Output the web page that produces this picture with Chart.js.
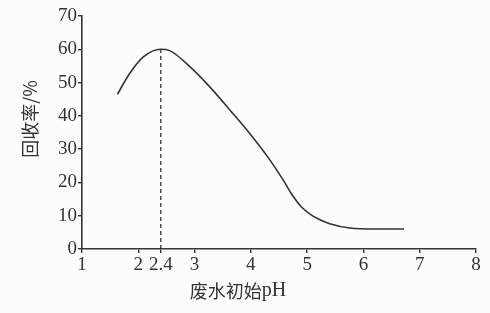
<!DOCTYPE html>
<html>
<head>
<meta charset="utf-8">
<script src="https://cdn.jsdelivr.net/npm/chart.js@4.4.1/dist/chart.umd.min.js"></script>
<style>
  html, body { margin: 0; padding: 0; background: #fcfcfb; }
  #wrap { width: 490px; height: 313px; position: relative; }
</style>
</head>
<body>
<div id="wrap"><canvas id="myChart" width="490" height="313"></canvas></div>
<script>
// curve: pH vs recovery %
const phValues = [1.63, 1.85, 2.09, 2.4, 2.56, 2.92, 3.27, 3.63, 3.98, 4.34, 4.6, 4.72, 4.9, 5.05, 5.2, 5.4, 5.76, 6.2, 6.72];
const recovery = [46.5, 52.8, 57.7, 60.0, 59.6, 54.7, 48.7, 41.7, 34.7, 26.7, 20.0, 16.6, 12.6, 10.5, 9.0, 7.6, 6.3, 6.0, 6.0];

// dashed marker at the optimum pH
const peakPh = 2.4;
const peakValue = 60;

const xTicks = [1, 2, 2.4, 3, 4, 5, 6, 7, 8];
const yTicks = [0, 10, 20, 30, 40, 50, 60, 70];

const xTitleCn = '废水初始';
const xTitleUnit = 'pH';
const yTitle = '回收率/%';

const INK = '#333333';
const SERIF = '"Liberation Serif", "DejaVu Serif", serif';
const NUM_FONT = { family: SERIF, size: 19 };

/**
 * Draw the two axis titles at the positions used in the printed figure
 */
const axisTitles = {
    id: 'axisTitles',
    afterDraw(chart) {
        const ctx = chart.ctx;
        ctx.save();
        ctx.fillStyle = INK;
        ctx.textBaseline = 'middle';

        // x title: CJK part then serif "pH"
        const cnFont = '18px "Noto Sans CJK SC", serif';
        const unitFont = '20px ' + SERIF;
        ctx.font = cnFont;
        const wCn = ctx.measureText(xTitleCn).width;
        ctx.font = unitFont;
        const wUnit = ctx.measureText(xTitleUnit).width;
        let x = 238 - (wCn + wUnit) / 2;
        ctx.textAlign = 'left';
        ctx.font = cnFont;
        ctx.fillText(xTitleCn, x, 291);
        ctx.font = unitFont;
        ctx.fillText(xTitleUnit, x + wCn, 291);

        ctx.textAlign = 'center';
        ctx.font = '18px "Noto Sans CJK SC", serif';
        ctx.translate(30, 119);
        ctx.rotate(-Math.PI / 2);
        ctx.fillText(yTitle, 0, 0);
        ctx.restore();
    }
};

const ctx = document.getElementById('myChart').getContext('2d');

new Chart(ctx, {
    type: 'line',
    data: {
        datasets: [{
            data: phValues.map((x, i) => ({ x: x, y: recovery[i] })),
            borderColor: INK,
            borderWidth: 1.6,
            pointRadius: 0,
            cubicInterpolationMode: 'monotone',
            fill: false
        }, {
            data: [{ x: peakPh, y: 0 }, { x: peakPh, y: peakValue }],
            borderColor: INK,
            borderWidth: 1.3,
            borderDash: [4, 3],
            pointRadius: 0,
            fill: false
        }]
    },
    options: {
        responsive: false,
        animation: false,
        layout: {
            padding: { top: 16, right: 14, left: 0, bottom: 0 }
        },
        plugins: {
            legend: { display: false },
            tooltip: { enabled: false }
        },
        scales: {
            x: {
                type: 'linear',
                min: 1,
                max: 8,
                afterBuildTicks: (scale) => {
                    scale.ticks = xTicks.map(v => ({ value: v }));
                },
                afterFit: (scale) => { scale.height = 313 - 16 - 233; },
                ticks: {
                    autoSkip: false,
                    maxRotation: 0,
                    color: INK,
                    font: NUM_FONT,
                    padding: 1,
                    callback: (v) => String(v)
                },
                grid: {
                    drawOnChartArea: false,
                    drawTicks: true,
                    tickLength: 4,
                    color: INK,
                    lineWidth: 1.4
                },
                border: { color: INK, width: 1.6 }
            },
            y: {
                min: 0,
                max: 70,
                afterBuildTicks: (scale) => {
                    scale.ticks = yTicks.map(v => ({ value: v }));
                },
                afterFit: (scale) => { scale.width = 82; },
                ticks: {
                    color: INK,
                    font: NUM_FONT,
                    padding: 1
                },
                grid: {
                    drawOnChartArea: false,
                    drawTicks: true,
                    tickLength: 4,
                    color: INK,
                    lineWidth: 1.4
                },
                border: { color: INK, width: 1.6 }
            }
        }
    },
    plugins: [axisTitles]
});
</script>
</body>
</html>
